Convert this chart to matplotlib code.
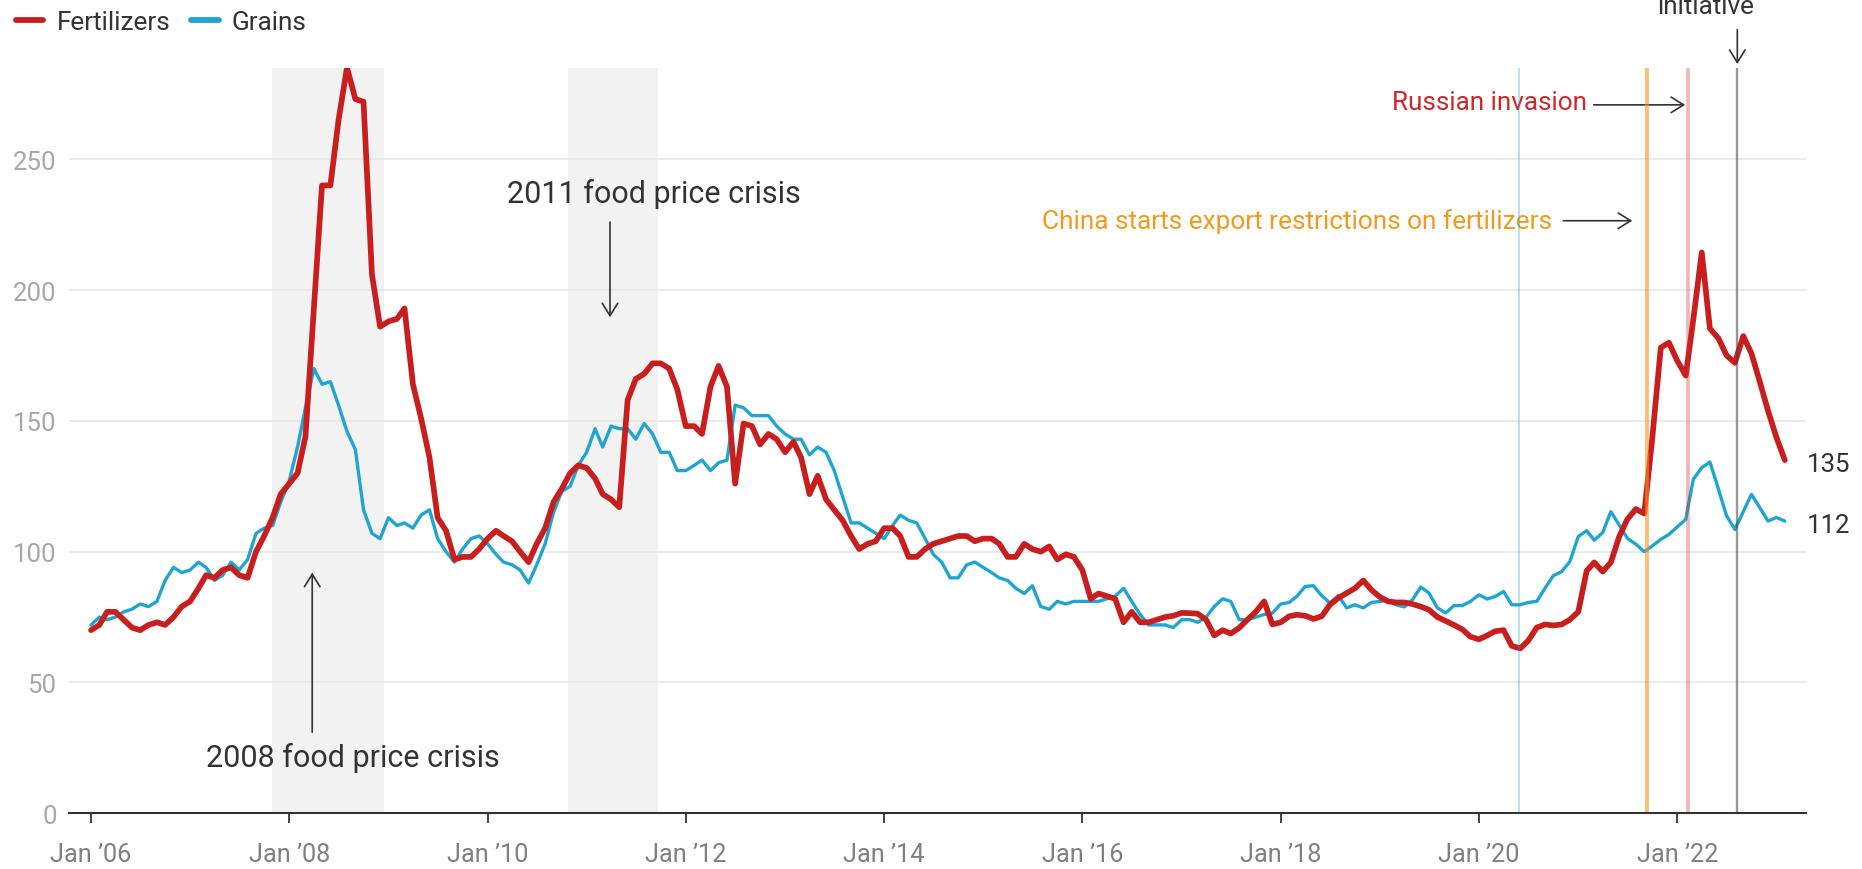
import numpy as np
import pandas as pd
import matplotlib
matplotlib.use("Agg")
import matplotlib.pyplot as plt
import matplotlib.dates as mdates
from matplotlib.lines import Line2D

plt.rcParams['font.family'] = ['Roboto', 'DejaVu Sans']

# Monthly price index, Jan 2006 - Feb 2023
fertilizers = [
    70, 72, 77, 77, 74, 71, 70, 72, 73, 72, 75, 79,                 # 2006
    81, 86, 91, 90, 93, 94, 91, 90, 100, 106, 113, 122,             # 2007
    126, 130, 144, 193, 240, 240, 265, 285, 273, 272, 206, 186,     # 2008
    188, 189, 193, 164, 151, 136, 113, 108, 97, 98, 98, 101,        # 2009
    105, 108, 106, 104, 100, 96, 103, 109, 119, 124, 130, 133,      # 2010
    132, 128, 122, 120, 117, 158, 166, 168, 172, 172, 170, 162,     # 2011
    148, 148, 145, 163, 171, 163, 126, 149, 148, 141, 145, 143,     # 2012
    138, 142, 136, 122, 129, 120, 116, 112, 106, 101, 103, 104,     # 2013
    109, 109, 106, 98, 98, 101, 103, 104, 105, 106, 106, 104,       # 2014
    105, 105, 103, 98, 98, 103, 101, 100, 102, 97, 99, 98,          # 2015
    93, 82, 84, 83, 82, 73, 77, 73, 73, 74, 75, 75.5,               # 2016
    76.6, 76.5, 76.3, 74, 68, 70, 68.7, 70.9, 74.1, 77, 81, 72.2,   # 2017
    73, 75.3, 75.9, 75.5, 74.3, 75.3, 79.7, 82.3, 84.2, 86, 89, 85.4,   # 2018
    82.7, 81, 80.6, 80.6, 80, 79, 77.8, 75, 73.5, 72, 70.3, 67.5,   # 2019
    66.5, 68, 69.6, 70, 64, 63, 66, 71, 72.2, 71.8, 72.2, 74,       # 2020
    77, 92.7, 95.9, 92.4, 95.9, 105.8, 112.4, 116.3, 114.6, 143.7, 178, 179.9,      # 2021
    172.9, 167.3, 188.9, 214.4, 185.3, 181.6, 175.1, 172.2, 182.4, 175.8, 164.9, 153.9,  # 2022
    143.7, 135,                                                     # 2023
]
grains = [
    72, 75, 74, 75, 77, 78, 80, 79, 81, 89, 94, 92,                 # 2006
    93, 96, 94, 89, 91, 96, 93, 97, 107, 109, 110, 119,             # 2007
    127, 140, 155, 170, 164, 165, 156, 146, 139, 116, 107, 105,     # 2008
    113, 110, 111, 109, 114, 116, 105, 100, 96, 101, 105, 106,      # 2009
    103, 99, 96, 95, 93, 88, 95, 103, 115, 123, 125, 133,           # 2010
    138, 147, 140, 148, 147, 147, 143, 149, 145, 138, 138, 131,     # 2011
    131, 133, 135, 131, 134, 135, 156, 155, 152, 152, 152, 148,     # 2012
    145, 143, 143, 137, 140, 138, 131, 121, 111, 111, 109, 107,     # 2013
    105, 110, 114, 112, 111, 105, 99, 96, 90, 90, 95, 96,           # 2014
    94, 92, 90, 89, 86, 84, 87, 79, 78, 81, 80, 81,                 # 2015
    81, 81, 81, 82, 83, 86, 81, 76, 72, 72, 72, 71,                 # 2016
    74, 74, 73, 75, 79, 82, 81, 74, 74, 75, 76, 76.5,               # 2017
    80, 80.6, 82.9, 86.7, 87, 83.2, 80.4, 83.2, 78.5, 79.7, 78.5, 80.6,     # 2018
    81, 81.4, 79.7, 78.9, 81.6, 86.5, 84.2, 78.5, 76.6, 79.4, 79.4, 81,     # 2019
    83.5, 81.9, 82.9, 84.8, 79.7, 79.7, 80.6, 81, 86.1, 90.8, 92.4, 96.2,   # 2020
    105.8, 108, 104.4, 107.3, 115.3, 110.2, 105.1, 102.9, 100, 102.2, 104.7, 106.6,  # 2021
    109.5, 112.4, 127.7, 132.1, 134.3, 124.1, 113.8, 108.5, 115.3, 121.9, 116.8, 111.7,  # 2022
    113.1, 111.7,                                                   # 2023
]
dates = pd.date_range("2006-01-01", periods=len(fertilizers), freq="MS")

crisis_spans = [("2007-10-31", "2008-12-17"), ("2010-10-25", "2011-09-22")]
event_dates = ["2020-05-27", "2021-09-10", "2022-02-11", "2022-08-10"]
event_colors = ["#1ba3d1", "#f7931e", "#d62e2e", "#444444"]
event_alpha = [0.4, 0.6, 0.35, 0.55]
event_widths = [1.1, 2.8, 2.6, 1.7]
tick_years = list(range(2006, 2023, 2))

RED = "#c81e1e"
BLUE = "#1ea5d2"
ORANGE = "#f39a1e"
DARK = "#333333"


def d(s):
    return mdates.date2num(pd.Timestamp(s))


W, H = 1862, 870
fig = plt.figure(figsize=(W / 100, H / 100), dpi=100)
ax = fig.add_axes([69 / W, 1 - 814.3 / H, (1806 - 69) / W, (814.3 - 68.7) / H])

# shaded crisis periods
for a, b in crisis_spans:
    ax.axvspan(d(a), d(b), color="#f2f2f2", lw=0, zorder=0)

# gridlines
for y in [50, 100, 150, 200, 250]:
    ax.axhline(y, color="#e6e6e6", lw=1.2, zorder=1)

ax.plot(dates, grains, color=BLUE, lw=2.4, zorder=2,
        solid_joinstyle="round", solid_capstyle="round")
ax.plot(dates, fertilizers, color=RED, lw=4.1, zorder=3,
        solid_joinstyle="round", solid_capstyle="round")

# event lines
for ed, c, al, w in zip(event_dates, event_colors, event_alpha, event_widths):
    ax.axvline(d(ed), color=c, alpha=al, lw=w, zorder=4)

ax.set_xlim(d("2005-10-12"), d("2023-04-20"))
ax.set_ylim(0, 285)

ax.set_yticks([0, 50, 100, 150, 200, 250])
ax.set_xticks([d(f"{y}-01-01") for y in tick_years])
ax.set_xticklabels([f"Jan \u2019{y % 100:02d}" for y in tick_years])
ax.tick_params(axis="y", length=0, pad=9, labelsize=18.5, labelcolor="#a8a8a8")
ax.tick_params(axis="x", length=7.5, width=1.3, color=DARK, pad=13,
               labelsize=18.2, labelcolor="#808080")
for s in ["top", "right", "left"]:
    ax.spines[s].set_visible(False)
ax.spines["bottom"].set_color(DARK)
ax.spines["bottom"].set_linewidth(1.5)
ax.spines["bottom"].set_zorder(5)

arrow = dict(arrowstyle="->, head_length=0.45, head_width=0.28",
             color=DARK, lw=1.2, shrinkA=0, shrinkB=0, mutation_scale=20)

# 2008 crisis
ax.annotate("", xy=(d("2008-03-26"), 92), xytext=(d("2008-03-26"), 31),
            arrowprops=arrow)
ax.text(d("2008-08-23"), 21.5, "2008 food price crisis", fontsize=22,
        color=DARK, ha="center", va="center")

# 2011 crisis
ax.annotate("", xy=(d("2011-03-28"), 189.6), xytext=(d("2011-03-28"), 226),
            arrowprops=arrow)
ax.text(d("2011-09-06"), 237, "2011 food price crisis", fontsize=22,
        color=DARK, ha="center", va="center")

# China export restrictions
ax.text(d("2020-09-28"), 226.5, "China starts export restrictions on fertilizers",
        fontsize=18.9, color=ORANGE, ha="right", va="center")
ax.annotate("", xy=(d("2021-07-19"), 226.5), xytext=(d("2020-11-07"), 226.5),
            arrowprops=arrow)

# Russian invasion
ax.text(d("2021-02-01"), 272.0, "Russian invasion", fontsize=18.8,
        color="#d0282a", ha="right", va="center")
ax.annotate("", xy=(d("2022-01-30"), 270.8), xytext=(d("2021-02-27"), 270.8),
            arrowprops=arrow)

# Black Sea grain initiative (top line falls outside the figure)
ax.text(d("2022-04-16"), 305.9, "Black Sea grain\ninitiative", fontsize=18.8,
        color=DARK, ha="center", va="baseline", clip_on=False,
        linespacing=1.2)
ax.annotate("", xy=(d("2022-08-10"), 286.4), xytext=(d("2022-08-10"), 299.5),
            arrowprops=arrow, annotation_clip=False)

# end labels
for vals in [fertilizers, grains]:
    ax.annotate(f"{vals[-1]:.0f}", xy=(dates[-1], vals[-1]), xytext=(16, -3),
                textcoords="offset points", fontsize=18.6, color=DARK,
                ha="left", va="center", annotation_clip=False)

handles = [Line2D([], [], color=RED, lw=4.2, solid_capstyle="round"),
           Line2D([], [], color=BLUE, lw=4.2, solid_capstyle="round")]
fig.legend(handles, ["Fertilizers", "Grains"], loc="center left",
           bbox_to_anchor=(16 / W, 1 - 23 / H), ncol=2, frameon=False,
           fontsize=18.8, labelcolor=DARK, handlelength=1.05, handletextpad=0.5,
           columnspacing=0.8, borderpad=0, borderaxespad=0)

fig.savefig("out.png", dpi=100)
